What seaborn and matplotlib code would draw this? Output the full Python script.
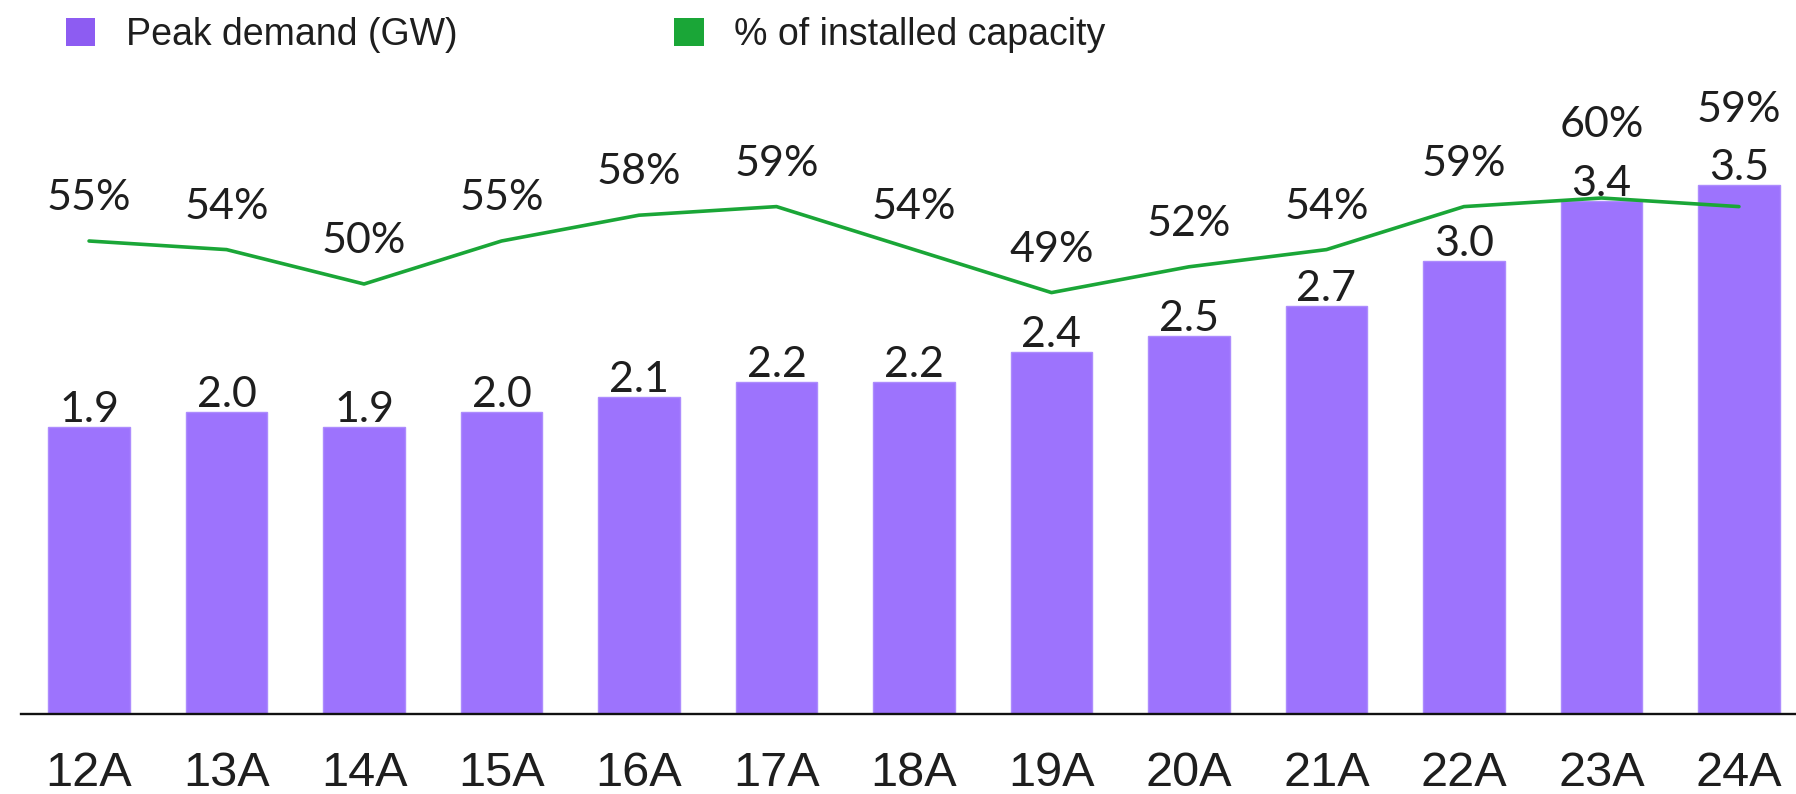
import matplotlib
matplotlib.use("Agg")
import matplotlib.pyplot as plt
import seaborn as sns
import pandas as pd
from matplotlib.patches import Patch

# Chart data
years = ["12A", "13A", "14A", "15A", "16A", "17A", "18A",
         "19A", "20A", "21A", "22A", "23A", "24A"]
peak_gw = [1.9, 2.0, 1.9, 2.0, 2.1, 2.2, 2.2, 2.4, 2.5, 2.7, 3.0, 3.4, 3.5]
pct_capacity = [55, 54, 50, 55, 58, 59, 54, 49, 52, 54, 59, 60, 59]
legend_labels = ["Peak demand (GW)", "% of installed capacity"]

BAR_COLOR = "#9d73fd"
BAR_EDGE = "#ad8cfd"
LEGEND_PURPLE = "#8d5cf2"
LINE_GREEN = "#1aa637"
TEXT = "#1e1e1e"

sns.set_style("white")
plt.rcParams["font.family"] = ["Liberation Sans", "DejaVu Sans"]

W, H = 1796, 794
fig = plt.figure(figsize=(W / 100, H / 100), dpi=100)
ax = fig.add_axes([21 / W, 80 / H, 1 - 21 / W, 714 / H])

df = pd.DataFrame({"year": years, "peak": peak_gw, "pct": pct_capacity})
df["pos"] = range(len(df))

sns.barplot(data=df, x="year", y="peak", color=BAR_COLOR, saturation=1,
            width=0.59, edgecolor=BAR_EDGE, linewidth=1, ax=ax)
ax.set_xlim(-0.495, 12.415)
ax.set_ylim(0, 714 / 151)

ax2 = ax.twinx()
sns.lineplot(data=df, x="pos", y="pct", color=LINE_GREEN, linewidth=2.6,
             solid_capstyle="round", ax=ax2)
ax2.set_ylim(0, 714 / 8.6)
ax2.set_xlim(ax.get_xlim())
ax2.axis("off")

# Axes styling: only the baseline remains
for side in ["top", "left", "right"]:
    ax.spines[side].set_visible(False)
ax.spines["bottom"].set_color("#111111")
ax.spines["bottom"].set_linewidth(1.7)
ax.set_xlabel("")
ax.set_ylabel("")
ax.set_yticks([])
ax.tick_params(axis="x", length=0, pad=27, labelsize=35, labelcolor=TEXT)

# Value labels: bar values above bars, percentages above the line,
# lifted clear of the bar label where the two would collide
label_font = dict(family=["Lato", "DejaVu Sans"], fontsize=31, color=TEXT)
digit_h = 31
for i, (v, p) in enumerate(zip(peak_gw, pct_capacity)):
    ax.annotate(f"{v:.1f}", xy=(i, v), xytext=(0, 5), textcoords="offset pixels",
                ha="center", va="baseline", **label_font)
    line_px = ax2.transData.transform((i, p))[1]
    bar_px = ax.transData.transform((i, v))[1]
    base = line_px + 31
    bar_label_top = bar_px + 5 + digit_h
    if base < bar_label_top + 28:
        base = bar_label_top + 28
    ax2.annotate(f"{p}%", xy=(i, p), xytext=(0, base - line_px),
                 textcoords="offset pixels", ha="center", va="baseline",
                 **label_font)

handles = [Patch(facecolor=LEGEND_PURPLE, edgecolor="none"),
           Patch(facecolor=LINE_GREEN, edgecolor="none")]
fig.legend(handles=handles, labels=legend_labels, loc="upper left",
           bbox_to_anchor=(66 / W, 1 - 17 / H), ncol=2, frameon=False,
           fontsize=27, handlelength=0.78, handleheight=0.78,
           handletextpad=0.82, columnspacing=5.78, borderpad=0,
           borderaxespad=0, labelcolor=TEXT)

fig.savefig("out.png", dpi=100)
